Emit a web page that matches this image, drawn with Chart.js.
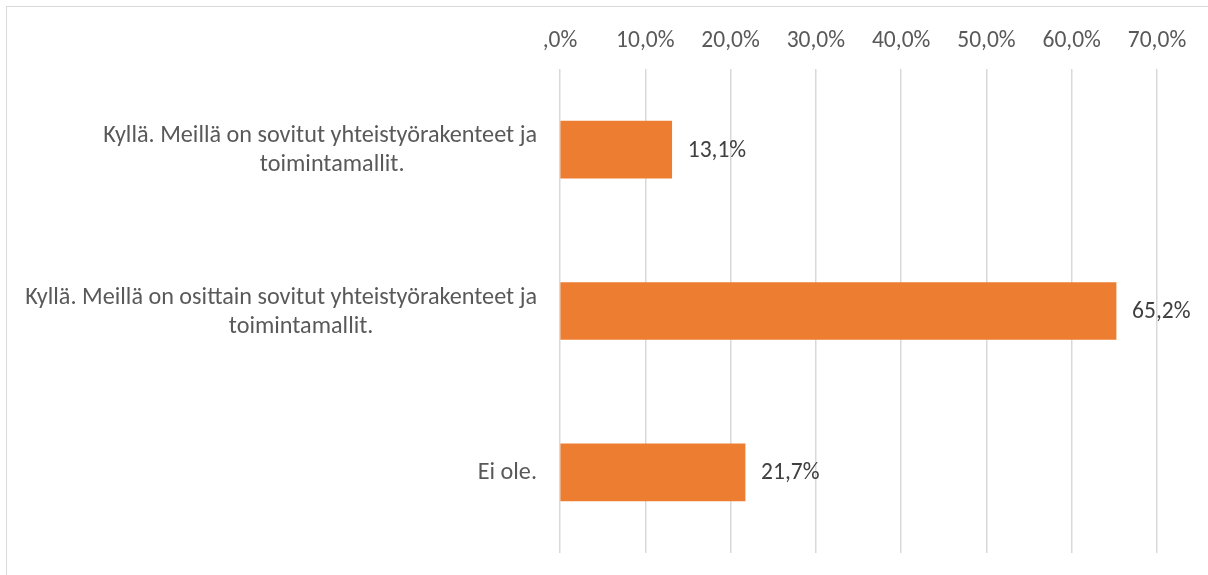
<!DOCTYPE html>
<html>
<head>
<meta charset="utf-8">
<script src="https://cdn.jsdelivr.net/npm/chart.js@4.4.0/dist/chart.umd.min.js"></script>
<style>
    html, body { margin: 0; padding: 0; background: #fff; }
    #wrap { position: relative; width: 1208px; height: 575px; }
    #frame { position: absolute; left: 6px; top: 6px; width: 1210px; height: 580px; border: 1px solid #d9d9d9; box-sizing: border-box; }
    canvas { position: absolute; left: 0; top: 0; }
</style>
</head>
<body>
<div id="wrap">
    <div id="frame"></div>
    <canvas id="histogramme1" width="1208" height="575"></canvas>
</div>
<script>
// données du graphique
const categories = [
    ['Kyllä. Meillä on sovitut yhteistyörakenteet ja', 'toimintamallit.'],
    ['Kyllä. Meillä on osittain sovitut yhteistyörakenteet ja', 'toimintamallit.'],
    ['Ei ole.']
];
const values = [13.1, 65.2, 21.7];
const tickValues = [0, 10, 20, 30, 40, 50, 60, 70];

const FONT = 'Carlito, Lato, "Liberation Sans", sans-serif';

const fmt = v => (v === 0 ? '' : v.toFixed(1).split('.')[0]) + ',' + v.toFixed(1).split('.')[1] + '%';

// libellés des catégories : lignes suivantes centrées (décalage comme dans Excel)
const lineShift = [12, 20, 0];
const categoryLabels = {
    id: 'categoryLabels',
    afterDraw: chart => {
        const ctx = chart.ctx;
        const yScale = chart.scales.y;
        const right = 537;
        const lh = 29;
        ctx.save();
        ctx.font = '24.2px ' + FONT;
        ctx.fillStyle = '#595959';
        ctx.textAlign = 'center';
        ctx.textBaseline = 'middle';
        categories.forEach((lines, i) => {
            const yc = yScale.getPixelForValue(i) + 1;
            const w = Math.max(...lines.map(l => ctx.measureText(l).width));
            const xc = right - w / 2;
            lines.forEach((l, j) => {
                const dx = j > 0 ? lineShift[i] : 0;
                ctx.fillText(l, xc + dx, yc + (j - (lines.length - 1) / 2) * lh);
            });
        });
        ctx.restore();
    }
};

// étiquettes de valeurs à droite des barres
const valueLabels = {
    id: 'valueLabels',
    afterDatasetsDraw: chart => {
        const ctx = chart.ctx;
        const meta = chart.getDatasetMeta(0);
        ctx.save();
        ctx.font = '23.5px ' + FONT;
        ctx.fillStyle = '#404040';
        ctx.textAlign = 'left';
        ctx.textBaseline = 'middle';
        meta.data.forEach((bar, i) => {
            ctx.fillText(fmt(values[i]), bar.x + 16, bar.y + 1);
        });
        ctx.restore();
    }
};

const ctx = document.getElementById('histogramme1');
const myChart = new Chart(ctx, {
    type: 'bar',
    data: {
        labels: categories.map(c => c.join(' ')),
        datasets: [{
            data: values,
            backgroundColor: '#ED7D31',
            borderWidth: 0,
            barThickness: 57
        }]
    },
    options: {
        indexAxis: 'y',
        responsive: false,
        maintainAspectRatio: false,
        animation: false,
        layout: { padding: { left: 0, right: 51, top: 0, bottom: 22 } },
        plugins: {
            legend: { display: false },
            tooltip: { enabled: false }
        },
        scales: {
            x: {
                position: 'top',
                min: 0,
                max: 70,
                afterBuildTicks: scale => {
                    scale.ticks = tickValues.map(v => ({ value: v }));
                },
                afterFit: scale => { scale.height = 69; },
                ticks: {
                    callback: v => fmt(v),
                    color: '#595959',
                    font: { family: FONT, size: 23.5 },
                    padding: 14,
                    maxRotation: 0
                },
                grid: { color: '#d9d9d9', lineWidth: 1.5, drawTicks: false },
                border: { display: false }
            },
            y: {
                afterFit: scale => { scale.width = 560; },
                ticks: { display: false },
                grid: { display: false },
                border: { display: false }
            }
        }
    },
    plugins: [categoryLabels, valueLabels]
});
</script>
</body>
</html>
